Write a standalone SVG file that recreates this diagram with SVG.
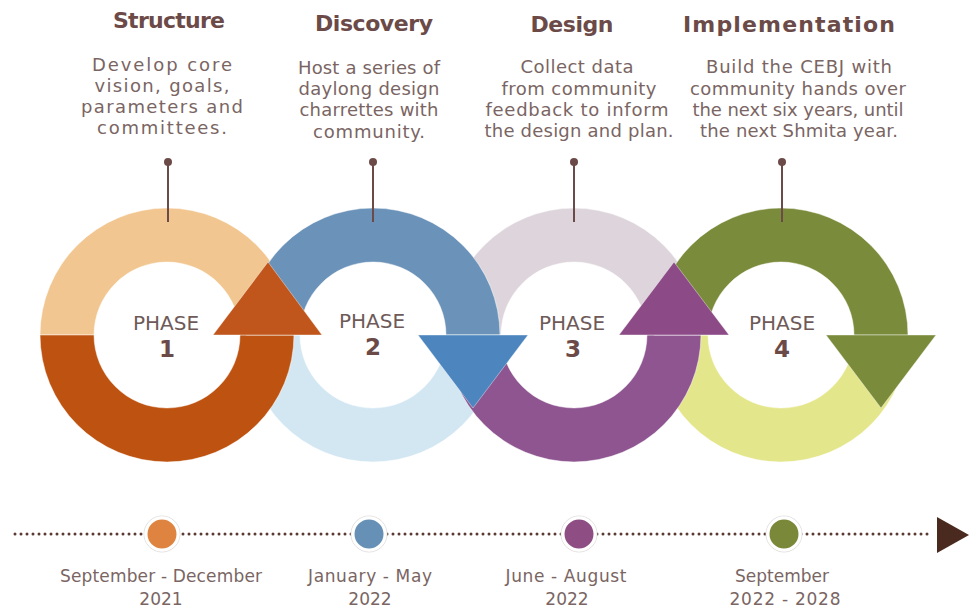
<svg xmlns="http://www.w3.org/2000/svg" width="969" height="610" viewBox="0 0 969 610">
<style>
.title{font-family:"DejaVu Sans","Liberation Sans",sans-serif;font-weight:bold;font-size:22px;fill:#6B4A48;text-anchor:middle}
.body{font-family:"DejaVu Sans","Liberation Sans",sans-serif;font-size:18px;fill:#7A6563;text-anchor:middle}
.phase{font-family:"DejaVu Sans","Liberation Sans",sans-serif;font-size:20px;fill:#6E5A58;text-anchor:middle}
.num{font-family:"DejaVu Sans","Liberation Sans",sans-serif;font-weight:bold;font-size:23px;fill:#6B4A48;text-anchor:middle}
.date{font-family:"DejaVu Sans","Liberation Sans",sans-serif;font-size:17px;fill:#7A6563;text-anchor:middle}
.pin{stroke:#6B4A48;stroke-width:2}
.pindot{fill:#6B4A48}
.seg{stroke:#ffffff;stroke-width:0.8;stroke-opacity:0.6}
.arr{stroke:#ffffff;stroke-width:0.8;stroke-opacity:0.5}
.mark{stroke:#ffffff;stroke-width:3}
.halo{fill:#ffffff;stroke:#dcd6d6;stroke-width:0.8}
</style>
<rect width="969" height="610" fill="#ffffff"/>

<g id="rings">
  <!-- light halves -->
  <path class="seg" fill="#F2C690" d="M40,335 A127,127 0 0 1 294,335 L240,335 A73,73 0 0 0 94,335 Z"/>
  <path class="seg" fill="#D3E7F3" d="M246,335 A127,127 0 0 0 500,335 L446,335 A73,73 0 0 1 300,335 Z"/>
  <path class="seg" fill="#DDD5DB" d="M447,335 A127,127 0 0 1 701,335 L647,335 A73,73 0 0 0 501,335 Z"/>
  <path class="seg" fill="#E4E68B" d="M654,335 A127,127 0 0 0 908,335 L854,335 A73,73 0 0 1 708,335 Z"/>
  <!-- dark halves -->
  <path class="seg" fill="#BE5311" d="M40,335 A127,127 0 0 0 294,335 L240,335 A73,73 0 0 1 94,335 Z"/>
  <path class="seg" fill="#6B93B9" d="M246,335 A127,127 0 0 1 500,335 L446,335 A73,73 0 0 0 300,335 Z"/>
  <path class="seg" fill="#8E5590" d="M447,335 A127,127 0 0 0 701,335 L647,335 A73,73 0 0 1 501,335 Z"/>
  <path class="seg" fill="#7A8B3B" d="M654,335 A127,127 0 0 1 908,335 L854,335 A73,73 0 0 0 708,335 Z"/>
  <!-- arrowheads -->
  <polygon class="arr" fill="#C0561B" points="213,335 322,335 268,262"/>
  <polygon class="arr" fill="#4D86BE" points="418,335 528,335 473,408"/>
  <polygon class="arr" fill="#8C4B86" points="619,335 729,335 674,262"/>
  <polygon class="arr" fill="#7A8B3B" points="826,335 936,335 881,408"/>
</g>

<g id="timeline">
  <line x1="15" y1="534" x2="933" y2="534" stroke="#5A3A32" stroke-width="3" stroke-linecap="round" stroke-dasharray="0 6"/>
  <polygon fill="#4A2A1E" points="937,517 969,535 937,553"/>
</g>

<g id="phase-1">
  <text class="title" x="169" y="28" textLength="112">Structure</text>
  <text class="body" x="162" y="71" textLength="140">Develop core</text>
  <text class="body" x="162" y="92" textLength="135">vision, goals,</text>
  <text class="body" x="162" y="113" textLength="162">parameters and</text>
  <text class="body" x="162" y="134" textLength="130">committees.</text>
  <line class="pin" x1="168" y1="162" x2="168" y2="222"/>
  <circle class="pindot" cx="168" cy="162" r="4"/>
  <text class="phase" x="166" y="330">PHASE</text>
  <text class="num" x="167" y="357">1</text>
  <circle class="halo" cx="162" cy="534" r="18"/>
  <circle class="mark" fill="#DE8440" cx="162" cy="534" r="16"/>
  <text class="date" x="161" y="582" textLength="202">September - December</text>
  <text class="date" x="161" y="605">2021</text>
</g>

<g id="phase-2">
  <text class="title" x="374" y="31" textLength="118">Discovery</text>
  <text class="body" x="369" y="74" textLength="142">Host a series of</text>
  <text class="body" x="369" y="95" textLength="141">daylong design</text>
  <text class="body" x="369" y="116" textLength="139">charrettes with</text>
  <text class="body" x="369" y="138" textLength="112">community.</text>
  <line class="pin" x1="373" y1="162" x2="373" y2="222"/>
  <circle class="pindot" cx="373" cy="162" r="4"/>
  <text class="phase" x="372" y="328">PHASE</text>
  <text class="num" x="373" y="355">2</text>
  <circle class="halo" cx="369" cy="534" r="18"/>
  <circle class="mark" fill="#6690B5" cx="369" cy="534" r="16"/>
  <text class="date" x="370" y="582" textLength="124">January - May</text>
  <text class="date" x="370" y="605">2022</text>
</g>

<g id="phase-3">
  <text class="title" x="572" y="32" textLength="83">Design</text>
  <text class="body" x="577" y="73" textLength="113">Collect data</text>
  <text class="body" x="579" y="95" textLength="155">from community</text>
  <text class="body" x="577" y="116" textLength="183">feedback to inform</text>
  <text class="body" x="579" y="137" textLength="189">the design and plan.</text>
  <line class="pin" x1="574" y1="162" x2="574" y2="222"/>
  <circle class="pindot" cx="574" cy="162" r="4"/>
  <text class="phase" x="572" y="330">PHASE</text>
  <text class="num" x="573" y="357">3</text>
  <circle class="halo" cx="579" cy="534" r="18"/>
  <circle class="mark" fill="#8E4E84" cx="579" cy="534" r="16"/>
  <text class="date" x="566" y="582" textLength="121">June - August</text>
  <text class="date" x="567" y="605">2022</text>
</g>

<g id="phase-4">
  <text class="title" x="789" y="32" textLength="212">Implementation</text>
  <text class="body" x="799" y="73" textLength="186">Build the CEBJ with</text>
  <text class="body" x="798" y="95" textLength="216">community hands over</text>
  <text class="body" x="798" y="116" textLength="211">the next six years, until</text>
  <text class="body" x="799" y="137" textLength="198">the next Shmita year.</text>
  <line class="pin" x1="782" y1="162" x2="782" y2="222"/>
  <circle class="pindot" cx="782" cy="162" r="4"/>
  <text class="phase" x="782" y="330">PHASE</text>
  <text class="num" x="782" y="357">4</text>
  <circle class="halo" cx="784" cy="534" r="18"/>
  <circle class="mark" fill="#7A883A" cx="784" cy="534" r="16"/>
  <text class="date" x="782" y="582" textLength="94">September</text>
  <text class="date" x="785" y="605" textLength="111">2022 - 2028</text>
</g>
</svg>
